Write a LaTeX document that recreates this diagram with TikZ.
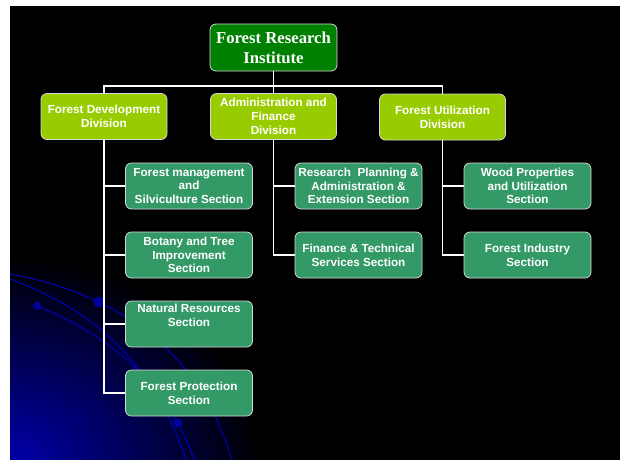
\documentclass[tikz,border=0pt]{standalone}
\usepackage{fontspec}
\setmainfont{Liberation Serif}
\setsansfont{Liberation Sans}
\usepackage{tikz}
\tikzset{every picture/.style={line width=0.75pt}}
\tikzset{
  boxbase/.style={draw={rgb, 255:red, 215; green, 215; blue, 215 }, line width=0.8pt, rounded corners=6pt, text=white, align=center, inner sep=0pt},
  institute/.style={boxbase, fill={rgb, 255:red, 0; green, 128; blue, 0 }, minimum width=127pt, minimum height=47pt, font=\bfseries\fontsize{16.7}{20}\selectfont},
  division/.style={boxbase, fill={rgb, 255:red, 153; green, 204; blue, 0 }, minimum width=126pt, minimum height=46pt, font=\sffamily\bfseries\fontsize{11.7}{13.8}\selectfont},
  secbox/.style={boxbase, fill={rgb, 255:red, 51; green, 153; blue, 102 }, minimum width=127pt, minimum height=46pt, font=\sffamily\bfseries\fontsize{11.7}{13.8}\selectfont},
  link/.style={draw=white, line width=1.8pt},
  swirl/.style={draw={rgb, 255:red, 0; green, 0; blue, 200 }, line width=0.9pt},
  blob/.style={fill={rgb, 255:red, 0; green, 0; blue, 155 }}
}

\begin{document}
\begin{tikzpicture}[x=1pt,y=1pt,yscale=-1,xscale=1]
		\useasboundingbox (0,0) rectangle (620,459);
		
		%Shape: Rectangle [id:slide] 
		\fill [white] (-10,-10) rectangle (640,480);
		\fill [black] (10,6) rectangle (640,480);
		
		%Shape: Glow [id:corner] 
		\begin{scope}
		\clip (10,6) rectangle (640,480);
		\shade [inner color={rgb, 255:red, 0; green, 0; blue, 170 }, outer color=black] (10,462) ellipse [x radius=250, y radius=205];
		
		%Curve Lines [id:arc1] 
		\draw [swirl] (10,274) .. controls (100,290) and (200,340) .. (233,465);
		%Curve Lines [id:arc2] 
		\draw [swirl] (10,279) .. controls (80,305) and (150,350) .. (188,465);
		%Curve Lines [id:arc3] 
		\draw [swirl] (37,306) .. controls (95,330) and (165,372) .. (196,465);
		\end{scope}
		
		%Shape: Circle [id:dots] 
		\fill [blob] (37,306) circle [radius=4];
		\fill [blob] (99,302) circle [radius=5.5];
		\fill [blob] (178,423) circle [radius=4.5];
		
		% Text Node
		\node [institute] (fri) at (273.5,47.5) {Forest Research\\Institute};
		
		% Text Node
		\node [division] (fdd) at (104,116.5) {Forest Development\\Division};
		% Text Node
		\node [division] (afd) at (273.5,116.5) {Administration and\\Finance\\Division};
		% Text Node
		\node [division] (fud) at (442.5,117) {Forest Utilization\\Division};
		
		% Text Node
		\node [secbox] (fms) at (189,186) {Forest management\\and\\Silviculture Section};
		% Text Node
		\node [secbox] (btr) at (189,255) {Botany and Tree\\Improvement\\Section};
		% Text Node
		\node [secbox] (nrs) at (189,324) {\raisebox{0pt}[\height][\dimexpr\depth+14pt\relax]{\begin{tabular}{@{}c@{}}Natural Resources\\Section\end{tabular}}};
		% Text Node
		\node [secbox] (fps) at (189,393) {Forest Protection\\Section};
		
		% Text Node
		\node [secbox] (rpa) at (358.5,186) {Research\ \ Planning \&\\Administration \&\\Extension Section};
		% Text Node
		\node [secbox] (fts) at (358.5,255) {Finance \& Technical\\Services Section};
		
		% Text Node
		\node [secbox] (wpu) at (527.5,186) {Wood Properties\\and Utilization\\Section};
		% Text Node
		\node [secbox] (fis) at (527.5,255) {Forest Industry\\Section};
		
		%Straight Lines [id:bus] 
		\coordinate (bus) at (273.5,86);
		\draw [link] (fri.south) -- (afd.north);
		\draw [link] (fdd.north) |- (bus) -| (fud.north);
		
		%Straight Lines [id:col1] 
		\draw [link] (fdd.south) |- (fms.west);
		\draw [link] (fdd.south) |- (btr.west);
		\draw [link] (fdd.south) |- (nrs.west);
		\draw [link] (fdd.south) |- (fps.west);
		
		%Straight Lines [id:col2] 
		\draw [link] (afd.south) |- (rpa.west);
		\draw [link] (afd.south) |- (fts.west);
		
		%Straight Lines [id:col3] 
		\draw [link] (fud.south) |- (wpu.west);
		\draw [link] (fud.south) |- (fis.west);
		
\end{tikzpicture}
\end{document}
